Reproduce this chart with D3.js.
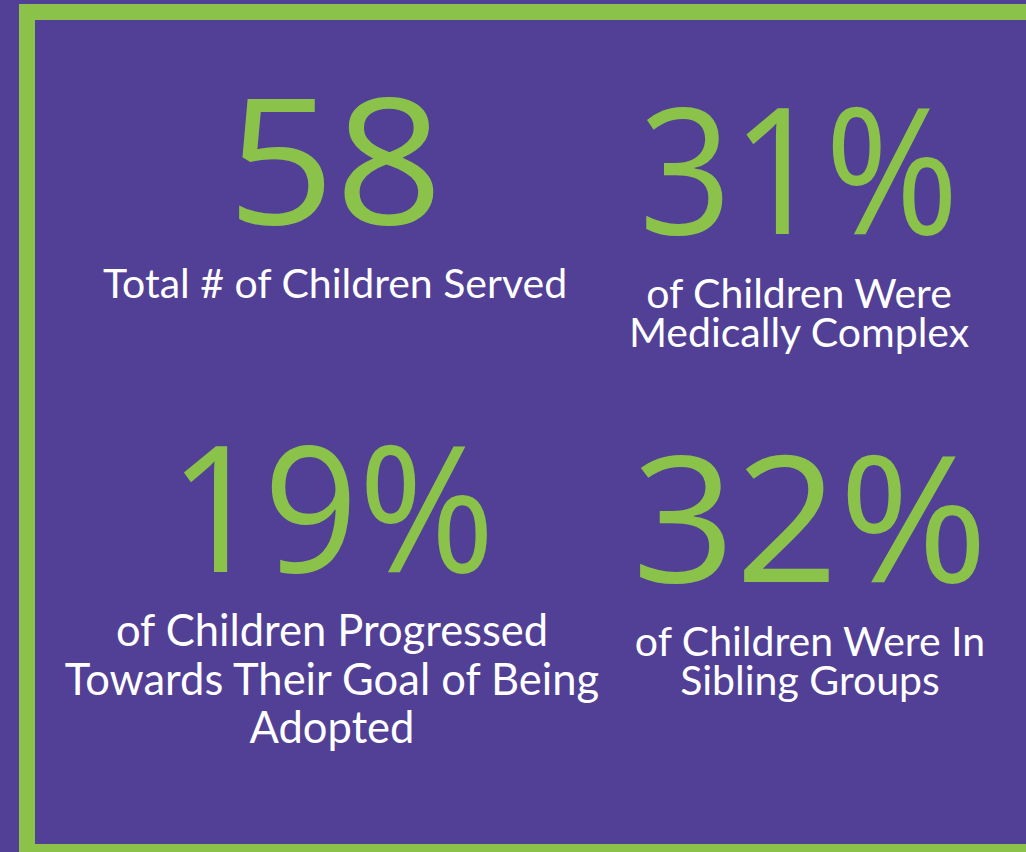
<!DOCTYPE html>
<html>
<head>
<meta charset="utf-8">
<script src="https://cdn.jsdelivr.net/npm/d3@7"></script>
<style>
  html, body { margin: 0; padding: 0; background: #523f96; overflow: hidden; }
</style>
</head>
<body>
<svg id="chart"></svg>
<script>
// Stat values and their captions
const statValues = ["58", "31%", "19%", "32%"];
const statLabels = [
    ["Total # of Children Served"],
    ["of Children Were", "Medically Complex"],
    ["of Children Progressed", "Towards Their Goal of Being", "Adopted"],
    ["of Children Were In", "Sibling Groups"]
];
const statCols = [0, 1, 0, 1];
const statRows = [0, 0, 1, 1];

const width = 1026;
const height = 852;
const purple = "#523f96";
const green = "#8bc34a";

function drawStats(svg) {
    svg.selectAll("*").remove();
    svg.attr("width", width).attr("height", height);

    // Background
    svg.append("rect")
        .attr("width", width)
        .attr("height", height)
        .attr("fill", purple);

    // Green frame (right and bottom run off the page)
    svg.append("rect")
        .attr("x", 27)
        .attr("y", 12)
        .attr("width", 1040)
        .attr("height", 840)
        .attr("fill", "none")
        .attr("stroke", green)
        .attr("stroke-width", 16);

    // column centres per row, and number baselines
    const xRow = [
        d3.scalePoint().domain([0, 1]).range([335, 799]),
        d3.scalePoint().domain([0, 1]).range([332, 810])
    ];
    const y = d3.scalePoint().domain([0, 1]).range([224, 572]);
    const colShift = [0, 10];      // right column sits a little lower
    const numWidth = [216, 320, 326, 356];
    const labelSize = [41, 41, 43.5, 41];
    const lineGap = [40, 39, 48.5, 39];

    const cells = statValues.map((v, i) => ({
        value: v,
        lines: statLabels[i],
        cx: xRow[statRows[i]](statCols[i]),
        base: y(statRows[i]) + colShift[statCols[i]],
        i: i
    }));

    const g = svg.selectAll("g.stat")
        .data(cells)
        .join("g")
        .attr("class", "stat");

    g.append("text")
        .attr("x", d => d.cx)
        .attr("y", d => d.base)
        .attr("text-anchor", "middle")
        .attr("textLength", d => numWidth[d.i])
        .attr("lengthAdjust", "spacingAndGlyphs")
        .style("font-family", "'Open Sans', sans-serif")
        .style("font-size", "176px")
        .style("font-weight", 500)
        .attr("fill", green)
        .text(d => d.value);

    // caption: one text, one tspan per line
    const label = g.append("text")
        .attr("class", "label")
        .attr("text-anchor", "middle")
        .style("font-family", "Lato, sans-serif")
        .style("font-size", d => labelSize[d.i] + "px")
        .attr("fill", "white");

    label.each(function (d) {
        d3.select(this).selectAll("tspan")
            .data(d.lines)
            .join("tspan")
            .attr("x", d.cx)
            .attr("y", (t, j) => d.base + 74 + j * lineGap[d.i])
            .text(t => t);
    });
}

drawStats(d3.select("#chart"));
</script>
</body>
</html>
